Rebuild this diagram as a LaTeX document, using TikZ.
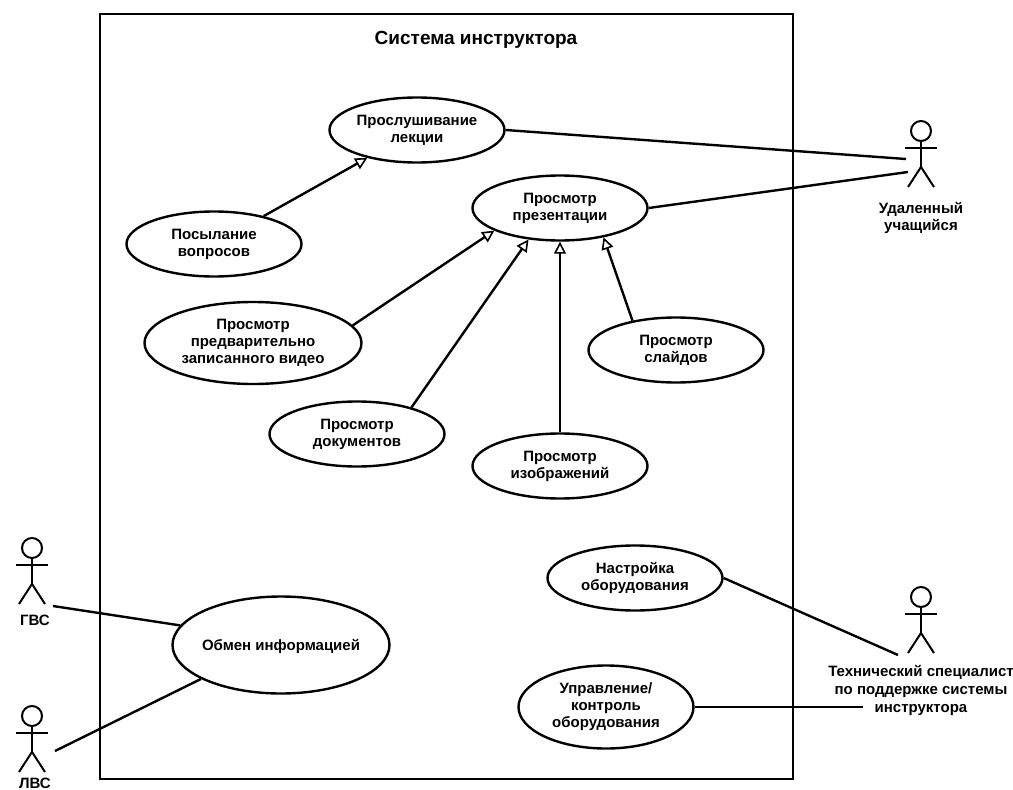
\documentclass[tikz,border=0pt]{standalone}
\usepackage{fontspec}
\setmainfont{Liberation Sans}
\usetikzlibrary{arrows.meta}
\usetikzlibrary{shapes.geometric}
\begin{document}
\begin{tikzpicture}[x=1pt,y=-1pt]
                \tikzstyle{every node}=[font=\fontsize{15}{17}\selectfont\bfseries,align=center]
                \tikzstyle{usecase}=[draw,ellipse,line width=2.4pt,inner sep=0pt,minimum width=175pt,minimum height=65pt,execute at begin node={\rule{0pt}{15pt}}]
                \tikzstyle{bigcase}=[usecase,minimum width=217pt,minimum height=82pt]
                \tikzstyle{link}=[line width=2.4pt]
                \tikzstyle{extends}=[link,-{Triangle[open,length=12pt,width=12pt,line width=1.6pt]}]
                \useasboundingbox (0,0) rectangle (1013,790);
                % system frame
                \draw [line width=2.2pt] (100,14) rectangle (793,779);
                \node (title) at (476,40) {\fontsize{19}{21}\selectfont Система инструктора};
                % use cases
                \node [usecase] (listen) at (417,130) {Прослушивание\\лекции};
                \node [usecase] (questions) at (214,244) {Посылание\\вопросов};
                \node [usecase] (present) at (560,208) {Просмотр\\презентации};
                \node [bigcase] (video) at (253,343) {Просмотр\\предварительно\\записанного видео};
                \node [usecase] (docs) at (357,434) {Просмотр\\документов};
                \node [usecase] (images) at (560,466) {Просмотр\\изображений};
                \node [usecase] (slides) at (676,350) {Просмотр\\слайдов};
                \node [usecase] (setup) at (635,578) {Настройка\\оборудования};
                \node [usecase,minimum height=83pt] (control) at (606,707) {Управление/\\контроль\\оборудования};
                \node [bigcase,minimum height=97pt,inner xsep=-3pt,execute at begin node={}] (exchange) at (281,645) {Обмен информацией};
                % actors
                \foreach \x/\y in {921/131,921/597,32/548,32/716}{
                    \draw [line width=2pt] (\x,\y) circle (10);
                    \draw [line width=2pt] (\x,\y+10) -- (\x,\y+36);
                    \draw [line width=2pt] (\x-16,\y+17) -- (\x+16,\y+17);
                    \draw [line width=2pt] (\x-13,\y+56) -- (\x,\y+36) -- (\x+13,\y+56);
                }
                \node (remote) at (921,218) {Удаленный\\учащийся};
                \node (tech) at (921,690) {Технический специалист\\[1pt]по поддержке системы\\[1pt]инструктора};
                \node (wan) at (35,620) {ГВС};
                \node (lan) at (35,783) {ЛВС};
                % free ends at the actors
                \coordinate (remoteA) at (906,159);
                \coordinate (remoteB) at (908,172);
                \coordinate (techA) at (898,655);
                \coordinate (techB) at (863,707);
                \coordinate (wanA) at (53,606);
                \coordinate (lanA) at (55,751);
                % connectors
                \draw [link] (listen.east) -- (remoteA);
                \draw [link] (present.east) -- (remoteB);
                \draw [link] (setup.east) -- (techA);
                \draw [link] (control.east) -- (techB);
                \draw [link] (exchange.169) -- (wanA);
                \draw [link] (exchange.203) -- (lanA);
                \draw [extends] (questions) -- (listen);
                \draw [extends] (video.10) -- (present.199);
                \draw [extends] (docs.26) -- (present.225);
                \draw [extends] (images.north) -- (present.south);
                \draw [extends] (slides.146) -- (present.-34);
            \end{tikzpicture}
\end{document}
